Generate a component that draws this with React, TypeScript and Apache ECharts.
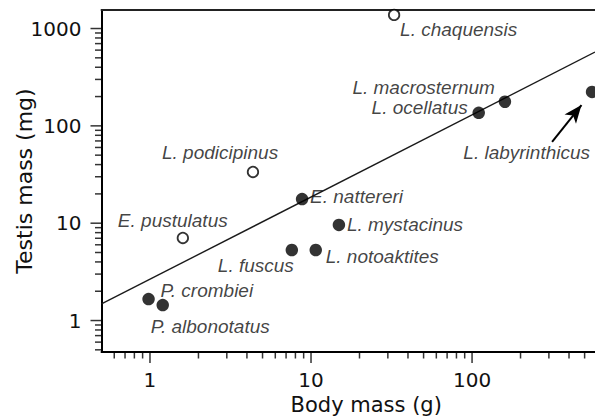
import React, { useEffect, useRef } from 'react';
import * as echarts from 'echarts';

// ---- data ----
const species = [
  'P. crombiei', 'P. albonotatus', 'E. pustulatus', 'L. podicipinus', 'L. fuscus', 'E. nattereri',
  'L. notoaktites', 'L. mystacinus', 'L. chaquensis', 'L. ocellatus', 'L. macrosternum', 'L. labyrinthicus',
];
const bodyMassG = [0.98, 1.2, 1.6, 4.36, 7.6, 8.8, 10.7, 14.9, 32.8, 110, 160, 556];
const testisMassMg = [1.66, 1.44, 7.05, 33.6, 5.3, 17.7, 5.3, 9.6, 1380, 136, 177, 223];
const markerKind = ['filled', 'filled', 'open', 'open', 'filled', 'filled', 'filled', 'filled', 'open', 'filled', 'filled', 'filled'];

const fitBodyMass = [0.5, 580];
const fitTestisMass = [1.48, 573];

const arrowStart = [314, 68.3];
const arrowEnd = [478, 163.6];

const xMajorTicks = [1, 10, 100];
const xMinorTicks = [0.6, 0.7, 0.8, 0.9, 2, 3, 4, 5, 6, 7, 8, 9, 20, 30, 40, 50, 60, 70, 80, 90, 200, 300, 400, 500];
const yMajorTicks = [1, 10, 100, 1000];
const yMinorTicks = [0.5, 0.6, 0.7, 0.8, 0.9, 2, 3, 4, 5, 6, 7, 8, 9, 20, 30, 40, 50, 60, 70, 80, 90, 200, 300, 400, 500, 600, 700, 800, 900];

const X_MIN = 0.5;
const X_MAX = 580;
const Y_MIN = 0.475;
const Y_MAX = 1550;

// ---- label placement (style, not data) ----
const labelPlacement: Record<string, { align: string; dx: number; dy: number }> = {
  'P. crombiei': { align: 'left', dx: 12, dy: -8.5 },
  'P. albonotatus': { align: 'left', dx: -12, dy: 21 },
  'E. pustulatus': { align: 'left', dx: -65, dy: -17.5 },
  'L. podicipinus': { align: 'left', dx: -91, dy: -19 },
  'L. fuscus': { align: 'left', dx: -74, dy: 15 },
  'E. nattereri': { align: 'left', dx: 8, dy: -2.5 },
  'L. notoaktites': { align: 'left', dx: 10, dy: 6.5 },
  'L. mystacinus': { align: 'left', dx: 8, dy: 0 },
  'L. chaquensis': { align: 'left', dx: 6, dy: 15 },
  'L. ocellatus': { align: 'right', dx: -11, dy: -5 },
  'L. macrosternum': { align: 'right', dx: -10, dy: -14 },
  'L. labyrinthicus': { align: 'right', dx: -2, dy: 61 },
};

const SANS = '"DejaVu Sans", sans-serif';
const ITALIC = '"Liberation Sans", Arial, sans-serif';
const INK = '#000000';
const TEXT = '#111111';

function isDecade(v: number) {
  const l = Math.log10(v);
  return Math.abs(l - Math.round(l)) < 1e-6;
}

export default function App() {
  const ref = useRef<HTMLDivElement>(null);

  useEffect(() => {
    if (!ref.current) return;
    const chart = echarts.init(ref.current, null, { renderer: 'svg' });

    const pointData = species.map((name, i) => {
      const open = markerKind[i] === 'open';
      const p = labelPlacement[name];
      return {
        name,
        value: [bodyMassG[i], testisMassMg[i]],
        symbol: 'circle',
        symbolSize: open ? 10.5 : 12.5,
        itemStyle: open
          ? { color: '#ffffff', borderColor: INK, borderWidth: 1.8 }
          : { color: INK, borderWidth: 0 },
        label: {
          show: true,
          formatter: name,
          position: 'inside',
          align: p.align,
          verticalAlign: 'middle',
          offset: [p.dx, p.dy],
          color: TEXT,
          textBorderWidth: 0,
          fontFamily: ITALIC,
          fontStyle: 'italic',
          fontSize: 19,
        },
      };
    });

    const tickSeries = (data: number[][], size: number[], offset: number[]) => ({
      type: 'scatter',
      silent: true,
      clip: false,
      symbol: 'rect',
      symbolSize: size,
      symbolOffset: offset,
      itemStyle: { color: INK },
      data,
      z: 1,
    });

    const option: any = {
      animation: false,
      grid: { left: 101.5, right: 0, top: 10, bottom: 67, containLabel: false, outerBoundsMode: 'none' },
      xAxis: [
        {
          type: 'log',
          logBase: 10,
          min: X_MIN,
          max: X_MAX,
          position: 'bottom',
          axisLine: { show: true, onZero: false, lineStyle: { color: INK, width: 2 } },
          axisTick: { show: false },
          splitLine: { show: false },
          axisLabel: {
            margin: 18,
            fontFamily: SANS,
            fontSize: 20,
            color: TEXT,
            formatter: (v: number) => (isDecade(v) ? String(Math.round(v)) : ''),
          },
          name: 'Body mass (g)',
          nameLocation: 'middle',
          nameGap: 42,
          nameMoveOverlap: false,
          nameTextStyle: { fontFamily: SANS, fontSize: 21, color: TEXT, padding: [0, 0, 0, 36] },
        },
        {
          type: 'log',
          logBase: 10,
          min: X_MIN,
          max: X_MAX,
          position: 'top',
          axisLine: { show: true, onZero: false, lineStyle: { color: '#222', width: 2 } },
          axisTick: { show: false },
          axisLabel: { show: false },
          splitLine: { show: false },
        },
      ],
      yAxis: {
        type: 'log',
        logBase: 10,
        min: Y_MIN,
        max: Y_MAX,
        position: 'left',
        axisLine: { show: true, onZero: false, lineStyle: { color: INK, width: 2 } },
        axisTick: { show: false },
        splitLine: { show: false },
        axisLabel: {
          margin: 20,
          fontFamily: SANS,
          fontSize: 20,
          color: TEXT,
          formatter: (v: number) => (isDecade(v) ? String(Math.round(v)) : ''),
        },
        name: 'Testis mass (mg)',
        nameLocation: 'middle',
        nameGap: 66,
        nameMoveOverlap: false,
        nameTextStyle: { fontFamily: SANS, fontSize: 22, color: TEXT },
      },
      series: [
        {
          type: 'line',
          data: fitBodyMass.map((x, i) => [x, fitTestisMass[i]]),
          symbol: 'none',
          silent: true,
          lineStyle: { color: '#1a1a1a', width: 1.4 },
          z: 2,
          markLine: {
            silent: true,
            symbol: ['none', 'arrow'],
            symbolSize: [11, 18],
            label: { show: false },
            lineStyle: { color: INK, width: 2, type: 'solid' },
            data: [[{ coord: arrowStart }, { coord: arrowEnd }]],
          },
        },
        tickSeries(xMajorTicks.map((v) => [v, Y_MIN]), [1.5, 11], [0, 5.5]),
        tickSeries(xMinorTicks.map((v) => [v, Y_MIN]), [1.5, 6.5], [0, 3.25]),
        tickSeries(yMajorTicks.map((v) => [X_MIN, v]), [11, 1.5], [-5.5, 0]),
        tickSeries(yMinorTicks.map((v) => [X_MIN, v]), [6.5, 1.5], [-3.25, 0]),
        {
          type: 'scatter',
          clip: false,
          data: pointData,
          z: 5,
        },
      ],
    };

    chart.setOption(option);
    return () => chart.dispose();
  }, []);

  return (
    <div
      ref={ref}
      style={{ position: 'absolute', left: 0, top: 0, width: 595, height: 419, background: '#fff' }}
    />
  );
}
